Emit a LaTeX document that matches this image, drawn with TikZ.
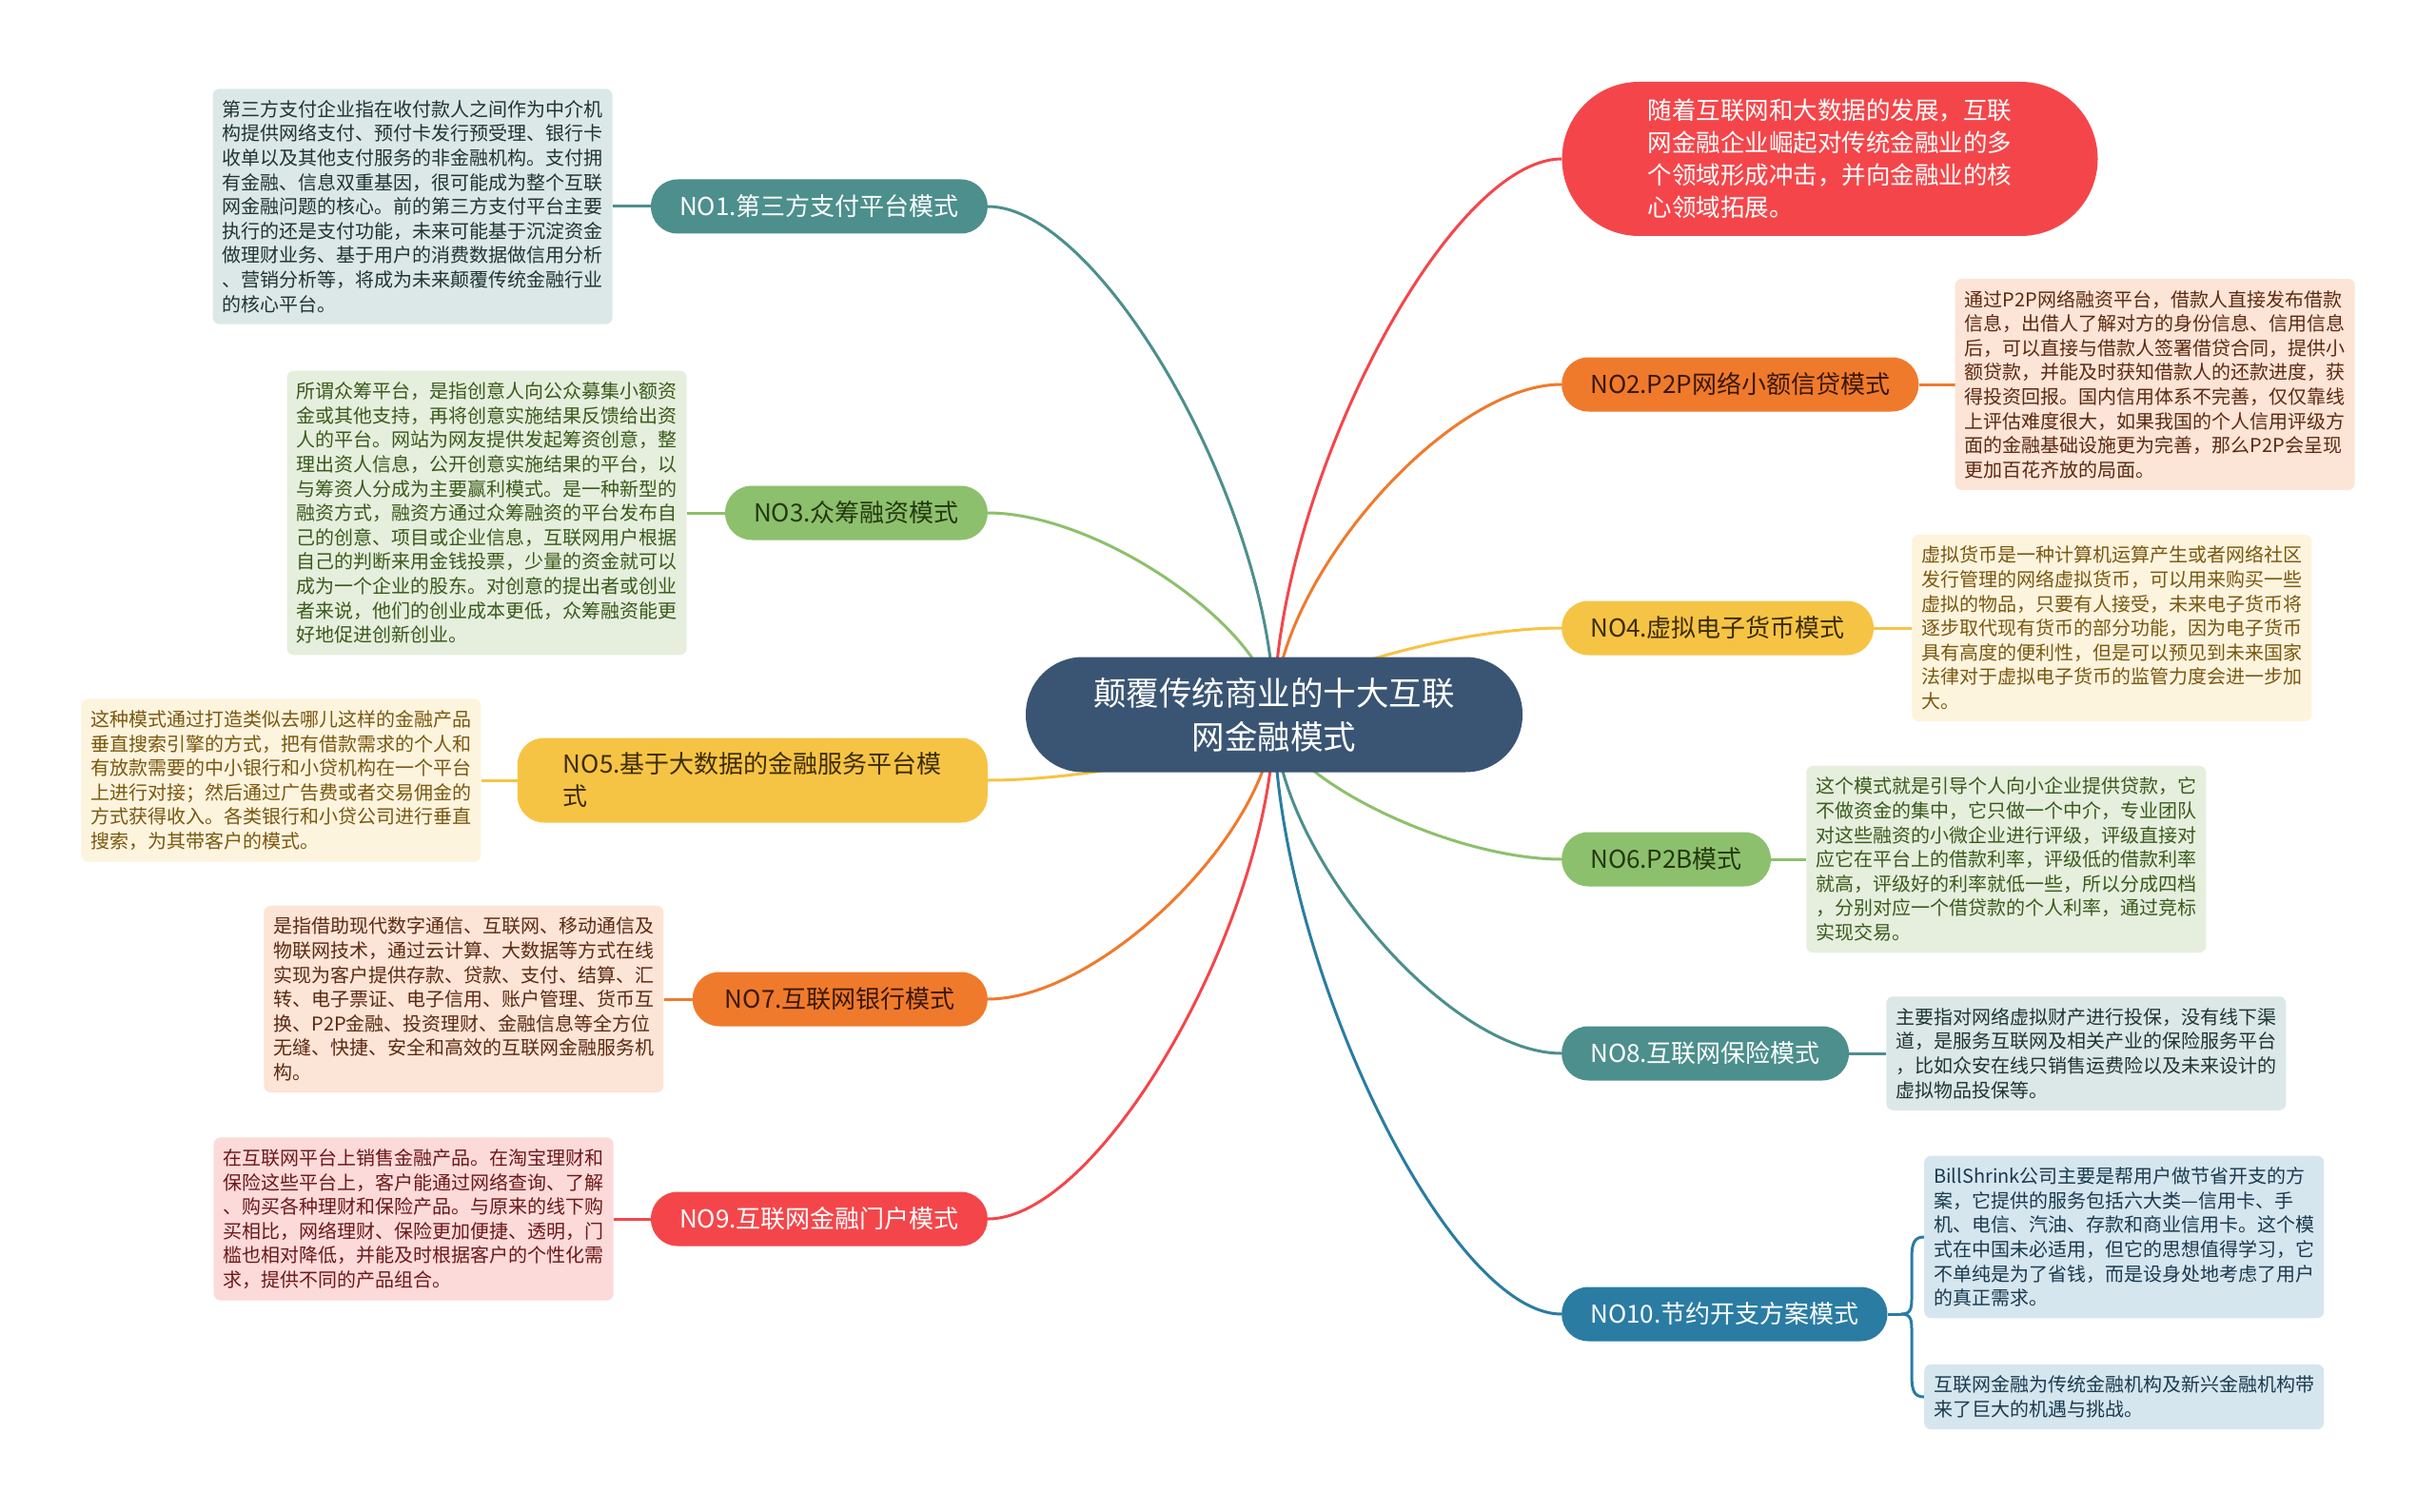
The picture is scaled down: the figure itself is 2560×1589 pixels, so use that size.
\documentclass[tikz,border=0pt]{standalone}
\usepackage{fontspec}
\setmainfont{Noto Sans CJK SC}
\usetikzlibrary{positioning,backgrounds}
\definecolor{rootc}{HTML}{3A5573}
\definecolor{mteal}{HTML}{4C8F8D}\definecolor{mtealL}{HTML}{DCE8E7}\definecolor{mtealD}{HTML}{1F3534}\colorlet{mtealT}{white}
\definecolor{mgreen}{HTML}{8DC06C}\definecolor{mgreenL}{HTML}{E6EFDD}\definecolor{mgreenD}{HTML}{3A5A1C}\definecolor{mgreenT}{HTML}{23380F}
\definecolor{myellow}{HTML}{F6C445}\definecolor{myellowL}{HTML}{FDF4DE}\definecolor{myellowD}{HTML}{7A5810}\definecolor{myellowT}{HTML}{3D2C06}
\definecolor{morange}{HTML}{F07A2C}\definecolor{morangeL}{HTML}{FCE4D6}\definecolor{morangeD}{HTML}{5C2A12}\definecolor{morangeT}{HTML}{3A1806}
\definecolor{mred}{HTML}{F4464A}\definecolor{mredL}{HTML}{FCDADA}\definecolor{mredD}{HTML}{6E1818}\colorlet{mredT}{white}
\definecolor{mblue}{HTML}{2A7CA3}\definecolor{mblueL}{HTML}{D6E6EF}\definecolor{mblueD}{HTML}{1A3A4F}\colorlet{mblueT}{white}
\begin{document}
\begin{tikzpicture}
[
    x=1pt, y=-1pt,
    topic/.style={fill=#1, text=#1T, rounded corners=28pt, minimum height=57pt,
        inner xsep=30pt, inner ysep=0pt, font=\fontsize{26}{34}\selectfont},
    note/.style={fill=#1L, text=#1D, rounded corners=7pt, inner xsep=10pt,
        inner ysep=12pt, align=left, font=\fontsize{20}{25.6}\selectfont},
    link/.style={draw=#1, line width=3pt},
]
\useasboundingbox (0,0) rectangle (2560,1589);
\node[fill=rootc, text=white, rounded corners=60pt, minimum width=522pt, minimum height=121pt,
    align=center, font=\fontsize{34.5}{46}\selectfont] (root) at (1339,751)
    {颠覆传统商业的十大互联\\网金融模式};
\node[fill=mred, text=white, rounded corners=81pt, minimum width=563pt, minimum height=162pt,
    align=left, font=\fontsize{25.5}{34}\selectfont] (intro) at (1923,167)
    {随着互联网和大数据的发展，互联\\网金融企业崛起对传统金融业的多\\个领域形成冲击，并向金融业的核\\心领域拓展。};
\node[topic=mteal, anchor=east] (no1) at (1038,217) {NO1.第三方支付平台模式};
\node[topic=mgreen, anchor=east] (no3) at (1038,539) {NO3.众筹融资模式};
\node[topic=myellow, anchor=east, align=left, minimum width=494pt, minimum height=89pt] (no5) at (1038,820)
    {NO5.基于大数据的金融服务平台模\\式};
\node[topic=morange, anchor=east, minimum width=310pt] (no7) at (1038,1050) {NO7.互联网银行模式};
\node[topic=mred, anchor=east] (no9) at (1038,1281) {NO9.互联网金融门户模式};
\node[topic=morange, anchor=west] (no2) at (1641,404) {NO2.P2P网络小额信贷模式};
\node[topic=myellow, anchor=west] (no4) at (1641,660) {NO4.虚拟电子货币模式};
\node[topic=mgreen, anchor=west] (no6) at (1641,903) {NO6.P2B模式};
\node[topic=mteal, anchor=west] (no8) at (1641,1107) {NO8.互联网保险模式};
\node[topic=mblue, anchor=west] (no10) at (1641,1381) {NO10.节约开支方案模式};
\node[note=mteal, left=40pt of no1] (d1)
    {第三方支付企业指在收付款人之间作为中介机\\构提供网络支付、预付卡发行预受理、银行卡\\收单以及其他支付服务的非金融机构。支付拥\\有金融、信息双重基因，很可能成为整个互联\\网金融问题的核心。前的第三方支付平台主要\\执行的还是支付功能，未来可能基于沉淀资金\\做理财业务、基于用户的消费数据做信用分析\\、营销分析等，将成为未来颠覆传统金融行业\\的核心平台。};
\node[note=mgreen, left=40pt of no3] (d3)
    {所谓众筹平台，是指创意人向公众募集小额资\\金或其他支持，再将创意实施结果反馈给出资\\人的平台。网站为网友提供发起筹资创意，整\\理出资人信息，公开创意实施结果的平台，以\\与筹资人分成为主要赢利模式。是一种新型的\\融资方式，融资方通过众筹融资的平台发布自\\己的创意、项目或企业信息，互联网用户根据\\自己的判断来用金钱投票，少量的资金就可以\\成为一个企业的股东。对创意的提出者或创业\\者来说，他们的创业成本更低，众筹融资能更\\好地促进创新创业。};
\node[note=myellow, left=38pt of no5] (d5)
    {这种模式通过打造类似去哪儿这样的金融产品\\垂直搜索引擎的方式，把有借款需求的个人和\\有放款需要的中小银行和小贷机构在一个平台\\上进行对接；然后通过广告费或者交易佣金的\\方式获得收入。各类银行和小贷公司进行垂直\\搜索，为其带客户的模式。};
\node[note=morange, left=30pt of no7] (d7)
    {是指借助现代数字通信、互联网、移动通信及\\物联网技术，通过云计算、大数据等方式在线\\实现为客户提供存款、贷款、支付、结算、汇\\转、电子票证、电子信用、账户管理、货币互\\换、P2P金融、投资理财、金融信息等全方位\\无缝、快捷、安全和高效的互联网金融服务机\\构。};
\node[note=mred, left=39pt of no9] (d9)
    {在互联网平台上销售金融产品。在淘宝理财和\\保险这些平台上，客户能通过网络查询、了解\\、购买各种理财和保险产品。与原来的线下购\\买相比，网络理财、保险更加便捷、透明，门\\槛也相对降低，并能及时根据客户的个性化需\\求，提供不同的产品组合。};
\node[note=morange, right=38pt of no2] (d2)
    {通过P2P网络融资平台，借款人直接发布借款\\信息，出借人了解对方的身份信息、信用信息\\后，可以直接与借款人签署借贷合同，提供小\\额贷款，并能及时获知借款人的还款进度，获\\得投资回报。国内信用体系不完善，仅仅靠线\\上评估难度很大，如果我国的个人信用评级方\\面的金融基础设施更为完善，那么P2P会呈现\\更加百花齐放的局面。};
\node[note=myellow, right=40pt of no4] (d4)
    {虚拟货币是一种计算机运算产生或者网络社区\\发行管理的网络虚拟货币，可以用来购买一些\\虚拟的物品，只要有人接受，未来电子货币将\\逐步取代现有货币的部分功能，因为电子货币\\具有高度的便利性，但是可以预见到未来国家\\法律对于虚拟电子货币的监管力度会进一步加\\大。};
\node[note=mgreen, right=37pt of no6] (d6)
    {这个模式就是引导个人向小企业提供贷款，它\\不做资金的集中，它只做一个中介，专业团队\\对这些融资的小微企业进行评级，评级直接对\\应它在平台上的借款利率，评级低的借款利率\\就高，评级好的利率就低一些，所以分成四档\\，分别对应一个借贷款的个人利率，通过竞标\\实现交易。};
\node[note=mteal, right=39pt of no8] (d8)
    {主要指对网络虚拟财产进行投保，没有线下渠\\道，是服务互联网及相关产业的保险服务平台\\，比如众安在线只销售运费险以及未来设计的\\虚拟物品投保等。};
\node[note=mblue, anchor=west] (d10a) at (2022,1300)
    {BillShrink公司主要是帮用户做节省开支的方\\案，它提供的服务包括六大类—信用卡、手\\机、电信、汽油、存款和商业信用卡。这个模\\式在中国未必适用，但它的思想值得学习，它\\不单纯是为了省钱，而是设身处地考虑了用户\\的真正需求。};
\node[note=mblue, anchor=west] (d10b) at (2022,1468)
    {互联网金融为传统金融机构及新兴金融机构带\\来了巨大的机遇与挑战。};
\coordinate (fork) at (1998,1381);
\begin{scope}[on background layer]
\fill[white] (0,0) rectangle (2560,1589);
\draw[link=mred] (root.center) .. controls (1339,517) and (1520,167) .. (intro.west);
\draw[link=morange] (root.center) .. controls (1339,612) and (1520,404) .. (no2.west);
\draw[link=myellow] (root.center) .. controls (1339,715) and (1520,660) .. (no4.west);
\draw[link=mgreen] (root.center) .. controls (1339,812) and (1520,903) .. (no6.west);
\draw[link=mteal] (root.center) .. controls (1339,893) and (1520,1107) .. (no8.west);
\draw[link=mblue] (root.center) .. controls (1339,1003) and (1520,1381) .. (no10.west);
\draw[link=mteal] (root.center) .. controls (1339,537) and (1158,217) .. (no1.east);
\draw[link=mgreen] (root.center) .. controls (1339,666) and (1158,539) .. (no3.east);
\draw[link=myellow] (root.center) .. controls (1339,779) and (1158,820) .. (no5.east);
\draw[link=morange] (root.center) .. controls (1339,871) and (1158,1050) .. (no7.east);
\draw[link=mred] (root.center) .. controls (1339,963) and (1158,1281) .. (no9.east);
\draw[link=mteal] (no1) -- (d1);
\draw[link=mgreen] (no3) -- (d3);
\draw[link=myellow] (no5) -- (d5);
\draw[link=morange] (no7) -- (d7);
\draw[link=mred] (no9) -- (d9);
\draw[link=morange] (no2) -- (d2);
\draw[link=myellow] (no4) -- (d4);
\draw[link=mgreen] (no6) -- (d6);
\draw[link=mteal] (no8) -- (d8);
\draw[link=mblue] (no10.east) -- (fork);
\draw[link=mblue] (fork) .. controls (2009,1381) and (2009,1374) .. (2009,1362) -- (2009,1322)
    .. controls (2009,1306) and (2012,1300) .. (d10a.west);
\draw[link=mblue] (fork) .. controls (2009,1381) and (2009,1388) .. (2009,1400) -- (2009,1446)
    .. controls (2009,1462) and (2012,1468) .. (d10b.west);
\end{scope}
\end{tikzpicture}
\end{document}
